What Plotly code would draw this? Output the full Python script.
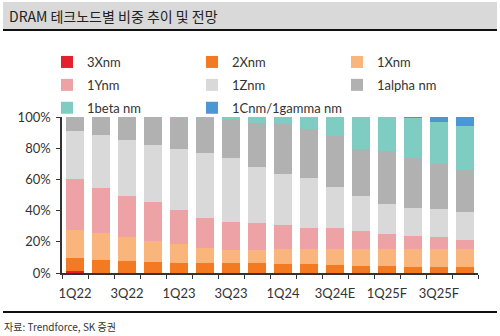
import plotly.graph_objects as go

quarters = ["1Q22", "2Q22", "3Q22", "4Q22", "1Q23", "2Q23", "3Q23", "4Q23",
            "1Q24", "2Q24", "3Q24E", "4Q24E", "1Q25F", "2Q25F", "3Q25F", "4Q25F"]

nm3x = [1.5, 0, 0, 0, 0, 0, 0, 0, 0, 0, 0, 0, 0, 0, 0, 0]
nm2x = [7.9, 8.5, 7.9, 7.0, 6.4, 6.4, 6.2, 6.2, 5.6, 5.7, 4.9, 4.3, 4.3, 3.6, 3.6, 3.6]
nm1x = [18.3, 17.0, 14.9, 13.4, 12.5, 9.6, 8.5, 8.5, 9.6, 10.0, 10.8, 11.4, 11.0, 11.7, 12.1, 11.7]
nm1y = [32.3, 29.2, 26.8, 24.9, 21.3, 19.1, 18.2, 17.1, 15.4, 13.4, 13.4, 11.3, 9.6, 8.7, 7.1, 6.0]
nm1z = [31.2, 33.8, 35.7, 36.6, 39.2, 42.1, 41.0, 36.4, 33.0, 31.5, 26.2, 22.4, 19.4, 17.5, 18.1, 18.1]
alpha = [8.8, 11.5, 14.7, 18.1, 20.3, 22.4, 25.1, 28.2, 31.8, 32.0, 32.4, 30.4, 34.0, 32.5, 28.7, 26.6]
beta = [0, 0, 0, 0, 0.3, 0.4, 1.0, 3.6, 4.6, 7.4, 12.3, 20.2, 21.7, 25.4, 27.3, 28.2]
gamma = [0, 0, 0, 0, 0, 0, 0, 0, 0, 0, 0, 0, 0, 0.6, 3.1, 5.8]

y_ticks = [0, 20, 40, 60, 80, 100]

series = [
    ("3Xnm", nm3x, "#e3202b", "legend"),
    ("2Xnm", nm2x, "#f47a22", "legend2"),
    ("1Xnm", nm1x, "#fab57c", "legend3"),
    ("1Ynm", nm1y, "#eda2a5", "legend"),
    ("1Znm", nm1z, "#d9d9d9", "legend2"),
    ("1alpha nm", alpha, "#b1b1b1", "legend3"),
    ("1beta nm", beta, "#7fccc3", "legend"),
    ("1Cnm/1gamma nm", gamma, "#4b97d5", "legend2"),
]

W, H = 500, 336
L, R, T, B = 62, 22, 117, 63
PW, PH = W - L - R, H - T - B


def px(x):
    return (x - L) / PW


def py(y):
    return (H - B - y) / PH


fig = go.Figure()
for name, vals, col, leg in series:
    fig.add_trace(go.Bar(x=quarters, y=vals, name=name, marker_color=col,
                         marker_line_width=0, hoverinfo="skip",
                         legend=leg, legendgroup=name))

font = "Lato, 'Noto Sans CJK KR', sans-serif"
kfont = "'Noto Sans CJK KR', sans-serif"


def leg(xpix):
    return dict(orientation="v", traceorder="grouped", tracegroupgap=3,
                x=px(xpix), y=py(47), xanchor="left", yanchor="top",
                font=dict(size=13, color="#333333"), itemwidth=30,
                bgcolor="rgba(0,0,0,0)", borderwidth=0)


fig.update_layout(
    width=W, height=H,
    margin=dict(l=L, r=R, t=T, b=B),
    paper_bgcolor="white", plot_bgcolor="white",
    barmode="stack", bargap=0.27,
    font=dict(family=font, color="#333333", size=13),
    showlegend=True,
    legend=leg(47), legend2=leg(192), legend3=leg(337),
    xaxis=dict(type="category", tickvals=quarters,
               ticktext=[q if i % 2 == 0 else "" for i, q in enumerate(quarters)],
               tickson="boundaries", ticks="outside", ticklen=4,
               tickcolor="#333333", showline=True, linecolor="#333333",
               linewidth=1.5, showgrid=False, tickangle=0,
               ticklabelstandoff=8,
               tickfont=dict(size=13, color="#333333"), fixedrange=True),
    yaxis=dict(range=[0, 100], tickvals=y_ticks,
               ticktext=[f"{v}%" for v in y_ticks],
               ticks="outside", ticklen=4, tickcolor="#333333",
               showline=True, linecolor="#333333", linewidth=1.5,
               showgrid=False, zeroline=False, ticklabelstandoff=3,
               tickfont=dict(size=13, color="#333333"), fixedrange=True),
)

shapes = [
    dict(type="rect", xref="paper", yref="paper", x0=px(3), x1=px(497),
         y0=py(2), y1=py(29), fillcolor="#d9d9d9", line_width=0, layer="below"),
    dict(type="line", xref="paper", yref="paper", x0=px(3), x1=px(497),
         y0=py(30), y1=py(30), line=dict(color="#111111", width=2)),
    dict(type="line", xref="paper", yref="paper", x0=px(3), x1=px(497),
         y0=py(312), y1=py(312), line=dict(color="#111111", width=2)),
]
fig.update_layout(shapes=shapes)

fig.add_annotation(text="DRAM 테크노드별 비중 추이 및 전망", xref="paper", yref="paper",
                   x=px(7), y=py(16), xanchor="left", yanchor="middle",
                   showarrow=False, font=dict(family=kfont, size=14, color="#222222"))
fig.add_annotation(text="자료: Trendforce, SK 증권", xref="paper", yref="paper",
                   x=px(2), y=py(326), xanchor="left", yanchor="middle",
                   showarrow=False, font=dict(family=kfont, size=10, color="#333333"))

fig.write_html("out.html", config={"displayModeBar": False})
